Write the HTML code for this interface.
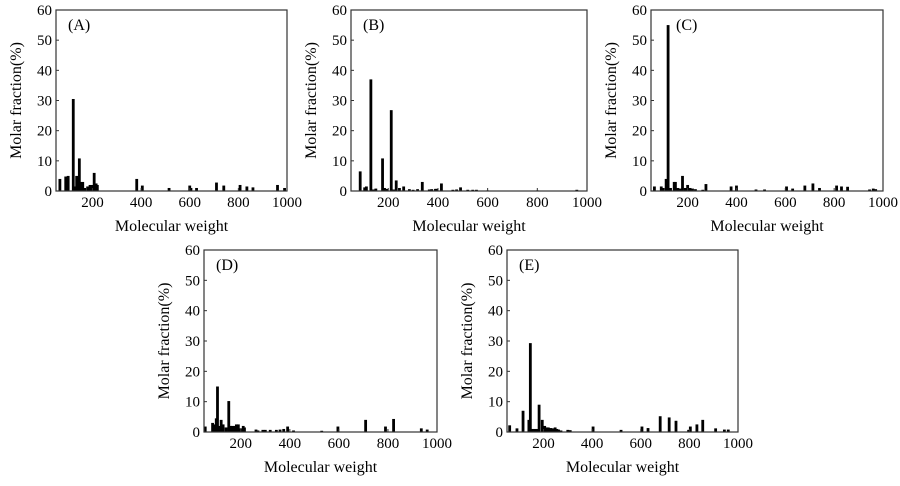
<!DOCTYPE html>
<html><head><meta charset="utf-8"><style>
html,body{margin:0;padding:0;background:#fff;width:900px;height:486px;overflow:hidden}
svg{display:block}
text{font-family:"Liberation Serif",serif;fill:#000}
</style></head><body>
<svg id="fig" width="900" height="486" viewBox="0 0 900 486"></svg>
<script>
const xTicks=[200,400,600,800,1000];
const yTicks=[0,10,20,30,40,50,60];
const panelLabels=["(A)","(B)","(C)","(D)","(E)"];
const mwA=[66,90,100,121,128,135,146,150,160,168,180,190,200,207,215,220,382,405,515,600,605,628,710,740,807,835,860,961,990];
const valA=[4,4.8,5,30.5,1.5,5,10.8,3,3,1,1.5,2,2,6,2.5,2,4,1.8,1,1.8,1,1,2.8,1.8,2,1.5,1.2,2,1];
const mwB=[87,105,112,130,140,150,177,185,195,212,222,232,245,262,285,300,318,337,365,375,390,395,414,460,475,491,520,540,555,600,800,959];
const valB=[6.5,1.2,1.5,37,0.5,0.8,10.8,1,0.7,26.8,0.5,3.5,1,1.5,0.6,0.4,0.6,3,0.5,0.6,0.7,0.7,2.5,0.4,0.5,1.2,0.4,0.4,0.4,0.2,0.2,0.4];
const mwC=[64,92,100,112,120,130,145,150,160,170,179,190,200,210,220,232,262,275,378,400,480,515,605,630,680,713,740,810,830,855,945,960,970];
const valC=[1.5,1.5,1,4,55,1,3,3,1,0.8,5,1,2,1,0.8,0.6,0.4,2.3,1.5,1.8,0.5,0.5,1.5,0.8,1.8,2.5,1,1.8,1.5,1.4,0.5,0.8,0.6];
const mwD=[55,85,95,100,105,112,120,128,140,151,158,165,175,182,190,200,210,215,262,270,290,300,320,345,360,375,391,415,530,596,709,790,823,936,960];
const valD=[1.8,3,2.5,4.5,15,2,4,2.5,1.5,10.2,2,2,2,2.5,2.5,1.2,2,1.5,0.8,0.5,0.7,0.7,0.7,0.7,0.8,1,1.8,0.5,0.4,1.8,4,1.8,4.3,1.2,0.8];
const mwE=[61,91,116,140,146,155,165,175,182,195,205,212,220,230,240,248,255,262,272,300,310,404,519,605,630,680,717,745,797,804,831,855,908,944,960];
const valE=[2.2,1.2,7,4,29.3,1,1,1,9,4,2,1.5,1.5,1.3,1.2,1.5,1,0.8,0.5,0.7,0.6,1.8,0.7,1.8,1.3,5.2,4.8,3.7,0.7,1.8,2.5,4,1.2,0.8,0.8];
const panels=[
 {l:56,r:287,t:10,b:191,mw:mwA,v:valA},
 {l:351,r:587,t:10,b:191,mw:mwB,v:valB},
 {l:651,r:883,t:10,b:191,mw:mwC,v:valC},
 {l:204,r:437,t:250,b:432,mw:mwD,v:valD},
 {l:507,r:738,t:250,b:432,mw:mwE,v:valE}
];
const NS="http://www.w3.org/2000/svg";
const svg=document.getElementById('fig');
function mk(tag,attrs,parent,txt){const e=document.createElementNS(NS,tag);for(const k in attrs)e.setAttribute(k,attrs[k]);if(txt!==undefined)e.textContent=txt;parent.appendChild(e);return e;}
panels.forEach((p,i)=>{
 const g=mk('g',{},svg);
 
 
 const xs=m=>p.l+(m-50)/(1000-50)*(p.r-p.l);
 const ys=v=>p.b-v/60*(p.b-p.t);
 p.mw.forEach((m,j)=>{
  const y=ys(p.v[j]);
  const r=mk('rect',{x:xs(m)-1.4,y:y,width:2.8,height:p.b-y,fill:'#000'},g);
  
  
 });
 const fr=mk('rect',{x:p.l,y:p.t,width:p.r-p.l,height:p.b-p.t,fill:'none',stroke:'#333','stroke-width':1.2},g);
 
 
 yTicks.forEach(t=>{
  const y=ys(t);
  mk('line',{x1:p.l,x2:p.l+3,y1:y,y2:y,stroke:'#333'},g);
  const tx=mk('text',{x:p.l-4,y:y+5,'text-anchor':'end','font-size':15},g,String(t));
  
  
 });
 xTicks.forEach(t=>{
  const x=xs(t);
  mk('line',{x1:x,x2:x,y1:p.b,y2:p.b-3,stroke:'#333'},g);
  const tx=mk('text',{x:x,y:p.b+16,'text-anchor':'middle','font-size':15},g,String(t));
  
  
 });
 const xl=mk('text',{x:(p.l+p.r)/2,y:p.b+40,'text-anchor':'middle','font-size':16},g,'Molecular weight');
 
 
 const cy=(p.t+p.b)/2, cx=p.l-35;
 const yl=mk('text',{x:cx,y:cy,'text-anchor':'middle','font-size':16,transform:`rotate(-90 ${cx} ${cy})`},g,'Molar fraction(%)');
 
 
 const lx = i===2 ? p.l+25 : p.l+12;
 const pl=mk('text',{x:lx,y:p.t+20,'font-size':16},g,panelLabels[i]);
 
 
});
</script>
</body></html>
